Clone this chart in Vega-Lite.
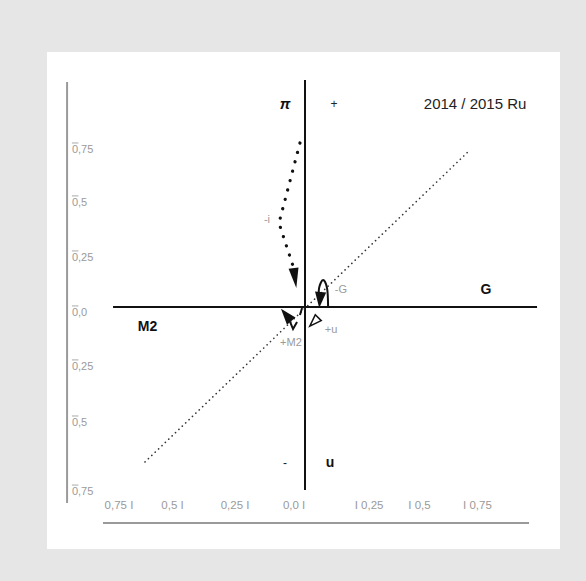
{
  "$schema": "https://vega.github.io/schema/vega-lite/v6.json",
  "autosize": {"type": "none"},
  "width": 513,
  "height": 497,
  "padding": {"left": 47, "top": 52, "right": 26, "bottom": 32},
  "background": "#e6e6e6",
  "config": {
    "view": {"fill": "white", "stroke": null},
    "text": {"font": "Liberation Sans"}
  },
  "encoding": {
    "x": {"field": "x", "type": "quantitative", "axis": null, "scale": {"domain": [-1.2286, 1.2143], "nice": false, "zero": false}},
    "y": {"field": "y", "type": "quantitative", "axis": null, "scale": {"domain": [-1.1524, 1.2143], "nice": false, "zero": false}}
  },
  "layer": [
    {
      "data": {"values": [
        {"x": 0, "y": 1.081, "x2": 0, "y2": -0.871},
        {"x": -0.914, "y": 0, "x2": 1.105, "y2": 0}
      ]},
      "mark": {"type": "rule", "color": "#111111", "strokeWidth": 2},
      "encoding": {"x2": {"field": "x2"}, "y2": {"field": "y2"}}
    },
    {
      "data": {"values": [
        {"x": -1.133, "y": 1.071, "x2": -1.133, "y2": -0.933},
        {"x": -0.962, "y": -1.029, "x2": 1.067, "y2": -1.029}
      ]},
      "mark": {"type": "rule", "color": "#9a9a9a", "strokeWidth": 2},
      "encoding": {"x2": {"field": "x2"}, "y2": {"field": "y2"}}
    },
    {
      "data": {"values": [
        {"x": -1.110, "x2": -1.079, "y": 0.781},
        {"x": -1.110, "x2": -1.079, "y": 0.529},
        {"x": -1.110, "x2": -1.079, "y": 0.267},
        {"x": -1.110, "x2": -1.079, "y": 0.005},
        {"x": -1.110, "x2": -1.079, "y": -0.252},
        {"x": -1.110, "x2": -1.079, "y": -0.519},
        {"x": -1.110, "x2": -1.079, "y": -0.848}
      ]},
      "mark": {"type": "rule", "color": "#aaaaaa", "strokeWidth": 1},
      "encoding": {"x2": {"field": "x2"}}
    },
    {
      "data": {"values": [
        {"x": -1.110, "y": 0.748, "label": "0,75"},
        {"x": -1.110, "y": 0.495, "label": "0,5"},
        {"x": -1.110, "y": 0.233, "label": "0,25"},
        {"x": -1.110, "y": -0.029, "label": "0,0"},
        {"x": -1.110, "y": -0.286, "label": "0,25"},
        {"x": -1.110, "y": -0.552, "label": "0,5"},
        {"x": -1.110, "y": -0.881, "label": "0,75"}
      ]},
      "mark": {"type": "text", "align": "left", "baseline": "middle", "fontSize": 11, "color": "#9a9a9a"},
      "encoding": {"text": {"field": "label"}}
    },
    {
      "data": {"values": [
        {"x": -0.886, "y": -0.948, "label": "0,75 I"},
        {"x": -0.631, "y": -0.948, "label": "0,5 I"},
        {"x": -0.333, "y": -0.948, "label": "0,25 I"},
        {"x": -0.052, "y": -0.948, "label": "0,0 I"},
        {"x": 0.305, "y": -0.948, "label": "I 0,25"},
        {"x": 0.545, "y": -0.948, "label": "I 0,5"},
        {"x": 0.821, "y": -0.948, "label": "I 0,75"}
      ]},
      "mark": {"type": "text", "align": "center", "baseline": "middle", "fontSize": 11.5, "color": "#9a9a9a"},
      "encoding": {"text": {"field": "label"}}
    },
    {
      "data": {"values": [
        {"x": -0.762, "y": -0.738},
        {"x": 0.786, "y": 0.748}
      ]},
      "mark": {"type": "line", "color": "#333333", "strokeWidth": 1.6, "strokeDash": [0.1, 4.6], "strokeCap": "round"}
    },
    {
      "data": {"values": [
        {"i": 1, "x": -0.024, "y": 0.781},
        {"i": 2, "x": -0.124, "y": 0.400},
        {"i": 3, "x": -0.057, "y": 0.195}
      ]},
      "mark": {"type": "line", "color": "#111111", "strokeWidth": 3.2, "strokeDash": [0.1, 9.6], "strokeCap": "round"},
      "encoding": {"order": {"field": "i", "type": "quantitative"}}
    },
    {
      "data": {"values": [
        {"i": 1, "x": 0.067, "y": 0.033},
        {"i": 2, "x": 0.067, "y": 0.090},
        {"i": 3, "x": 0.086, "y": 0.129},
        {"i": 4, "x": 0.105, "y": 0.090},
        {"i": 5, "x": 0.110, "y": 0.005}
      ]},
      "mark": {"type": "line", "color": "#111111", "strokeWidth": 2, "interpolate": "cardinal"},
      "encoding": {"order": {"field": "i", "type": "quantitative"}}
    },
    {
      "data": {"values": [
        {"part": "v", "i": 1, "x": -0.071, "y": -0.071},
        {"part": "v", "i": 2, "x": -0.057, "y": -0.105},
        {"part": "v", "i": 3, "x": -0.038, "y": -0.071},
        {"part": "s", "i": 1, "x": -0.024, "y": -0.038},
        {"part": "s", "i": 2, "x": -0.014, "y": -0.005}
      ]},
      "mark": {"type": "line", "color": "#111111", "strokeWidth": 2},
      "encoding": {"detail": {"field": "part"}, "order": {"field": "i", "type": "quantitative"}}
    },
    {
      "data": {"values": [{"x": -0.048, "y": 0.138}]},
      "mark": {"type": "point", "shape": "M-0.5,-1L0.5,-1L0,1Z", "size": 400, "filled": true, "opacity": 1, "color": "#111111", "angle": 352}
    },
    {
      "data": {"values": [{"x": 0.071, "y": 0.033}]},
      "mark": {"type": "point", "shape": "M-0.7,-1L0.7,-1L0,1Z", "size": 256, "filled": true, "opacity": 1, "color": "#111111", "angle": 5}
    },
    {
      "data": {"values": [{"x": -0.090, "y": -0.038}]},
      "mark": {"type": "point", "shape": "M-0.7,-1L0.7,-1L0,1Z", "size": 256, "filled": true, "opacity": 1, "color": "#111111", "angle": 140}
    },
    {
      "data": {"values": [{"x": 0.043, "y": -0.071}]},
      "mark": {"type": "point", "shape": "M-0.7,-1L0.7,-1L0,1Z", "size": 144, "filled": false, "opacity": 1, "color": "#111111", "strokeWidth": 1.5, "angle": 45}
    },
    {
      "data": {"values": [
        {"x": 0.862, "y": 0.081, "label": "G"},
        {"x": -0.750, "y": -0.095, "label": "M2"},
        {"x": 0.119, "y": -0.743, "label": "u"}
      ]},
      "mark": {"type": "text", "align": "center", "baseline": "middle", "fontSize": 14, "fontWeight": "bold", "color": "#111111"},
      "encoding": {"text": {"field": "label"}}
    },
    {
      "data": {"values": [{"x": -0.095, "y": 0.967, "label": "π"}]},
      "mark": {"type": "text", "align": "center", "baseline": "middle", "fontSize": 15, "fontWeight": "bold", "fontStyle": "italic", "color": "#111111"},
      "encoding": {"text": {"field": "label"}}
    },
    {
      "data": {"values": [
        {"x": 0.138, "y": 0.967, "label": "+"},
        {"x": -0.095, "y": -0.743, "label": "-"}
      ]},
      "mark": {"type": "text", "align": "center", "baseline": "middle", "fontSize": 12, "color": "#222222"},
      "encoding": {"text": {"field": "label"}}
    },
    {
      "data": {"values": [{"x": 0.810, "y": 0.967, "label": "2014 / 2015 Ru"}]},
      "mark": {"type": "text", "align": "center", "baseline": "middle", "fontSize": 15, "color": "#222222"},
      "encoding": {"text": {"field": "label"}}
    },
    {
      "data": {"values": [
        {"x": 0.171, "y": 0.081, "label": "-G"},
        {"x": 0.124, "y": -0.110, "label": "+u"},
        {"x": -0.067, "y": -0.171, "label": "+M2"},
        {"x": -0.181, "y": 0.414, "label": "-i"}
      ]},
      "mark": {"type": "text", "align": "center", "baseline": "middle", "fontSize": 11, "color": "#9a9a9a"},
      "encoding": {"text": {"field": "label"}}
    }
  ]
}
